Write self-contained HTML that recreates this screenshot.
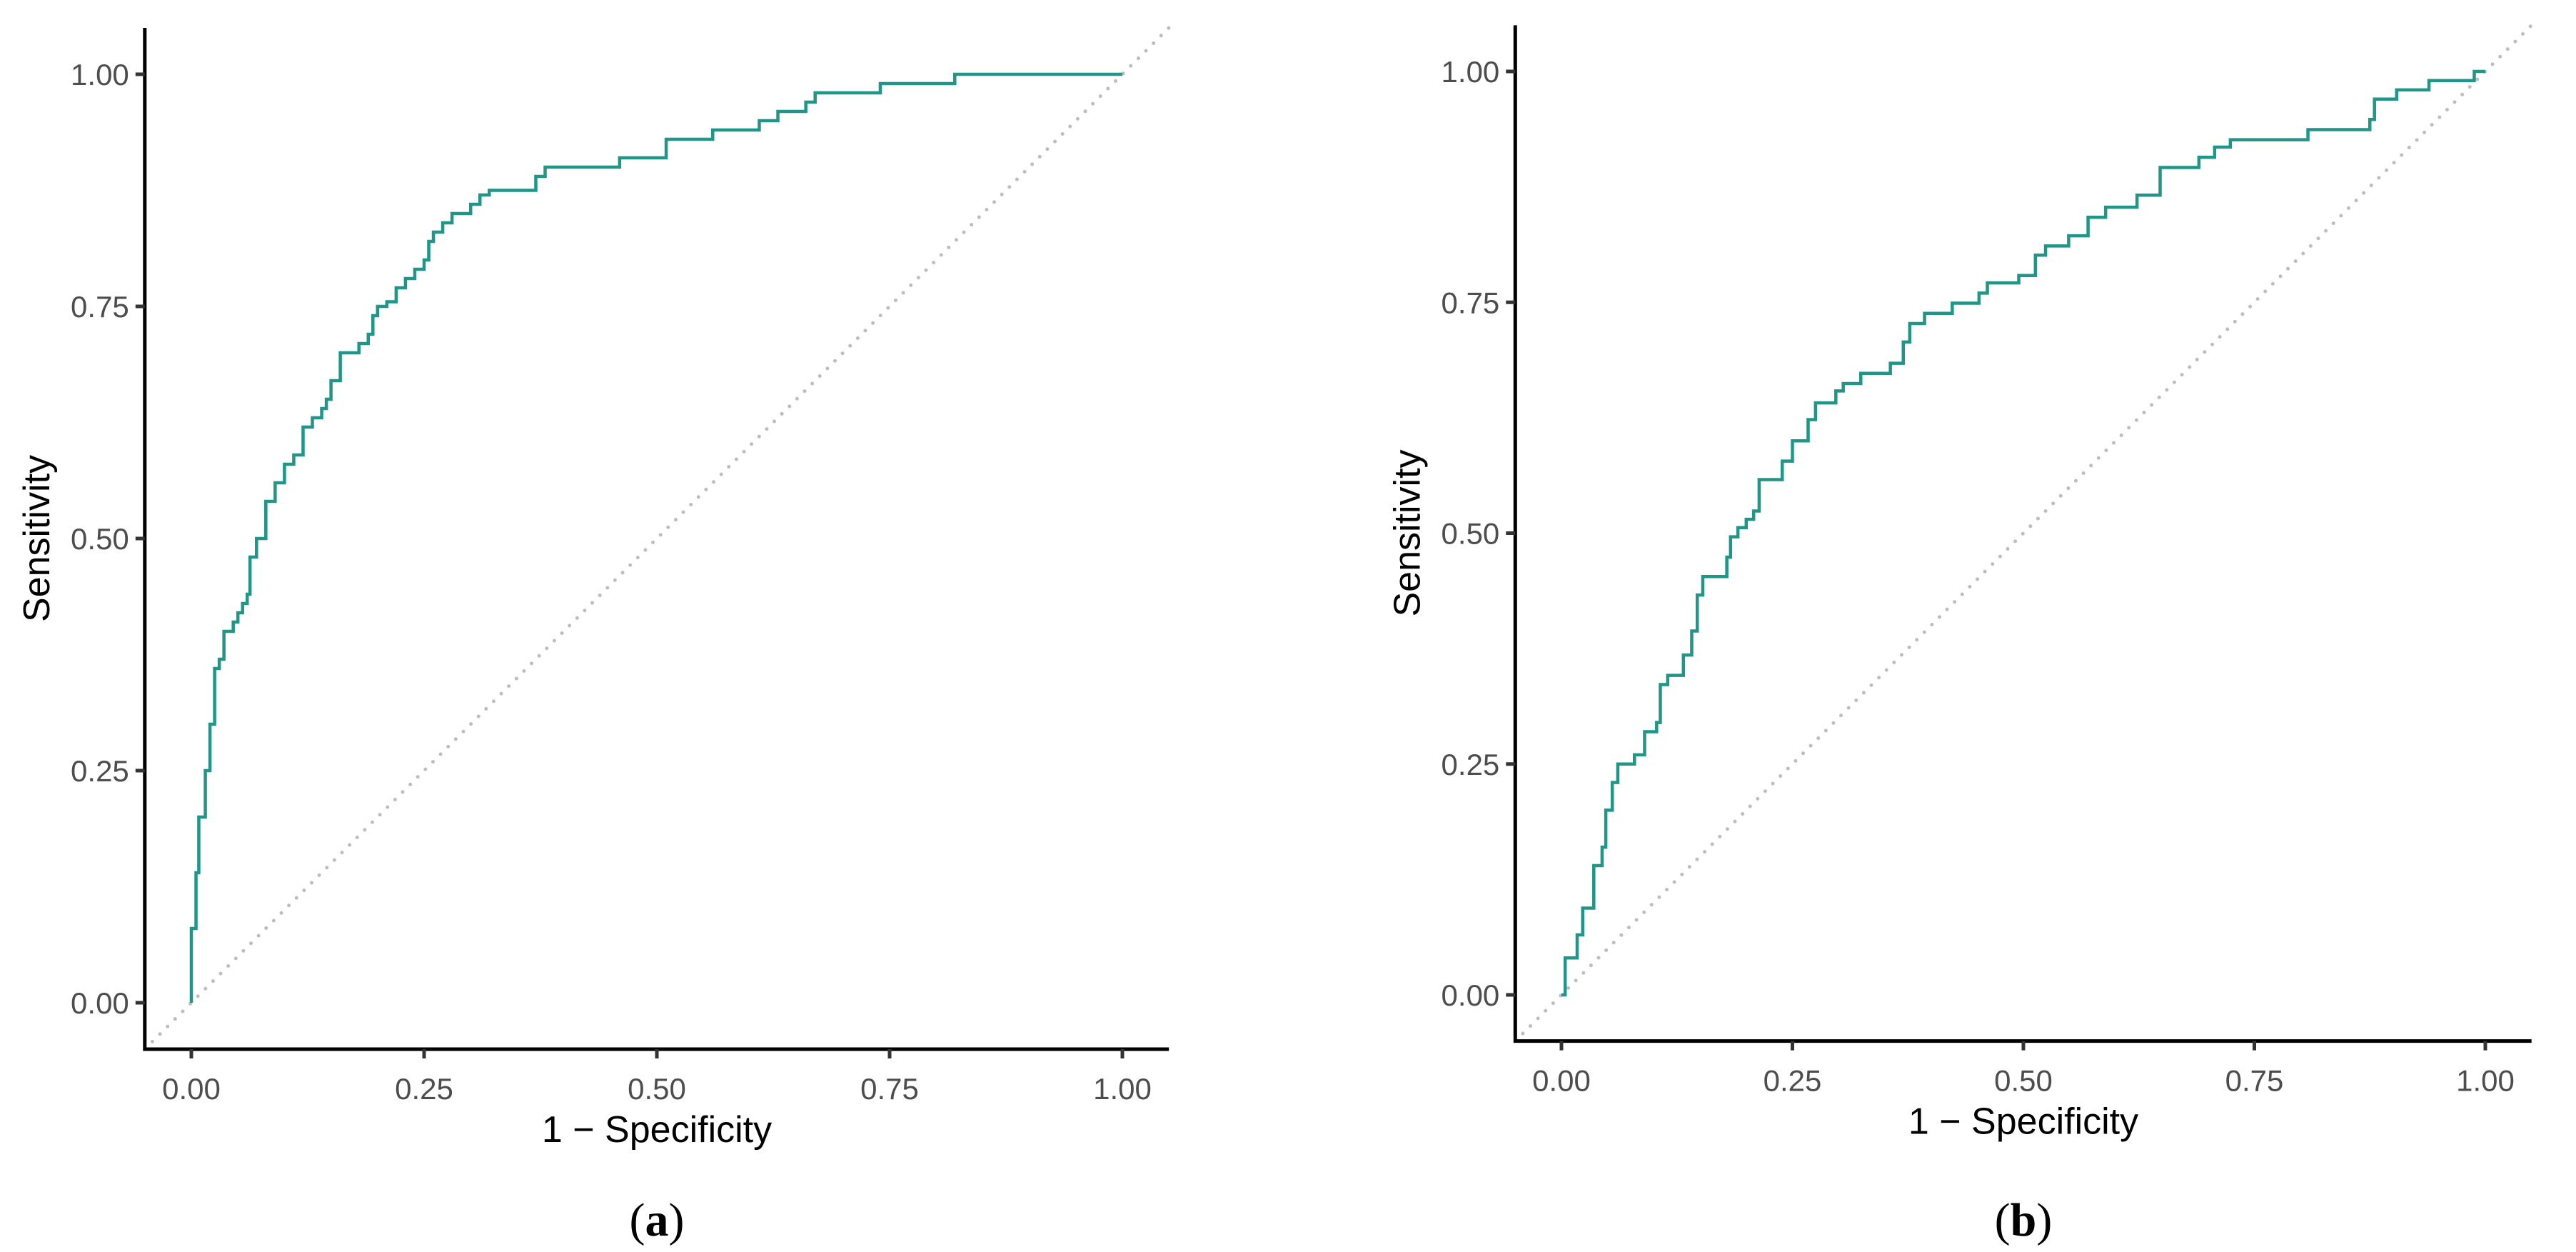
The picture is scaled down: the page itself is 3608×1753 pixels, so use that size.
<!DOCTYPE html>
<html><head><meta charset="utf-8"><style>
html,body{margin:0;padding:0;background:#fff;}
svg{display:block;}
.tick{font-family:"Liberation Sans",sans-serif;font-size:42px;fill:#4d4d4d;}
.atitle{font-family:"Liberation Sans",sans-serif;font-size:52px;fill:#000;}
.cap{font-family:"Liberation Serif",serif;font-size:66px;fill:#000;}
</style></head><body>
<svg id="chart" width="3608" height="1753" viewBox="0 0 3608 1753" xmlns="http://www.w3.org/2000/svg">
<g id="panelA"></g>
<g id="panelB"></g>
</svg>
<script>
const tickValues = [0, 0.25, 0.5, 0.75, 1];
const tickLabels = ["0.00", "0.25", "0.50", "0.75", "1.00"];
const fprA = [0,0,0.005,0.008,0.015,0.02,0.025,0.03,0.035,0.045,0.05,0.055,0.06,0.063,0.07,0.078,0.08,0.09,0.1,0.11,0.12,0.13,0.14,0.145,0.15,0.16,0.17,0.18,0.19,0.195,0.2,0.21,0.22,0.23,0.24,0.25,0.255,0.26,0.27,0.28,0.3,0.31,0.32,0.36,0.37,0.38,0.45,0.46,0.5,0.51,0.55,0.56,0.6,0.61,0.63,0.66,0.67,0.73,0.74,0.8,0.82,1];
const tprA = [0,0.08,0.14,0.2,0.25,0.3,0.36,0.37,0.4,0.41,0.42,0.43,0.44,0.48,0.5,0.5,0.54,0.56,0.58,0.59,0.62,0.63,0.64,0.65,0.67,0.7,0.7,0.71,0.72,0.74,0.75,0.755,0.77,0.78,0.79,0.8,0.82,0.83,0.84,0.85,0.86,0.87,0.875,0.875,0.89,0.9,0.9,0.91,0.91,0.93,0.93,0.94,0.94,0.95,0.96,0.97,0.98,0.98,0.99,0.99,1,1];
const fprB = [0,0.004,0.014,0.017,0.023,0.031,0.035,0.044,0.048,0.055,0.061,0.078,0.079,0.09,0.103,0.107,0.115,0.128,0.132,0.141,0.147,0.153,0.174,0.179,0.183,0.191,0.2,0.208,0.214,0.236,0.239,0.25,0.263,0.267,0.275,0.292,0.297,0.305,0.322,0.324,0.351,0.356,0.366,0.37,0.377,0.389,0.393,0.419,0.423,0.448,0.452,0.461,0.49,0.495,0.507,0.513,0.524,0.545,0.549,0.566,0.57,0.585,0.589,0.621,0.623,0.644,0.648,0.687,0.69,0.705,0.707,0.72,0.724,0.805,0.808,0.872,0.875,0.88,0.9,0.904,0.937,0.939,0.985,0.988,1];
const tprB = [0,0.04,0.04,0.065,0.094,0.094,0.14,0.16,0.2,0.23,0.25,0.25,0.26,0.285,0.295,0.336,0.346,0.346,0.368,0.394,0.433,0.453,0.453,0.474,0.496,0.506,0.515,0.524,0.558,0.558,0.578,0.6,0.6,0.623,0.641,0.641,0.654,0.662,0.662,0.673,0.673,0.684,0.684,0.707,0.727,0.727,0.738,0.738,0.749,0.749,0.76,0.771,0.771,0.779,0.779,0.801,0.811,0.811,0.822,0.822,0.842,0.842,0.853,0.853,0.866,0.866,0.896,0.896,0.907,0.907,0.918,0.918,0.926,0.926,0.937,0.937,0.948,0.97,0.97,0.98,0.98,0.99,0.99,1,1];

const NS = "http://www.w3.org/2000/svg";
function mk(parent, tag, attrs, text) {
  const e = document.createElementNS(NS, tag);
  for (const k in attrs) e.setAttribute(k, attrs[k]);
  if (text !== undefined) e.textContent = text;
  parent.appendChild(e);
  return e;
}
function drawPanel(g, P, fpr, tpr, cap) {
  const sx = v => P.x0 + v * (P.x1 - P.x0);
  const sy = v => P.y0 - v * (P.y0 - P.y1);
  const ax = sx(-0.05), ay = sy(-0.05), rx = sx(1.05), ty = sy(1.05);
  const diag = mk(g, "line", {x1: ax, y1: ay, x2: rx, y2: ty, stroke: "#bdbdbd", "stroke-width": 5, "stroke-dasharray": "0 15", "stroke-linecap": "round"});
  
  
  let d = "M" + sx(fpr[0]) + " " + sy(tpr[0]);
  for (let i = 1; i < fpr.length; i++) {
    d += " L" + sx(fpr[i]) + " " + sy(tpr[i - 1]) + " L" + sx(fpr[i]) + " " + sy(tpr[i]);
  }
  const line = mk(g, "path", {d: d, fill: "none", stroke: "#1f9688", "stroke-width": 4.5, "stroke-linejoin": "miter"});
  
  
  const axes = mk(g, "path", {d: "M" + ax + " " + ty + " L" + ax + " " + ay + " L" + rx + " " + ay, fill: "none", stroke: "#000", "stroke-width": 5});
  
  
  for (let i = 0; i < tickValues.length; i++) {
    const v = tickValues[i];
    mk(g, "line", {x1: sx(v), y1: ay, x2: sx(v), y2: ay + 13, stroke: "#333", "stroke-width": 5});
    const xt = mk(g, "text", {x: sx(v), y: ay + 70, "text-anchor": "middle", class: "tick"}, tickLabels[i]);
    
    
    mk(g, "line", {x1: ax - 13, y1: sy(v), x2: ax, y2: sy(v), stroke: "#333", "stroke-width": 5});
    const yt = mk(g, "text", {x: ax - 22, y: sy(v) + 15, "text-anchor": "end", class: "tick"}, tickLabels[i]);
    
    
  }
  const xtitle = mk(g, "text", {x: sx(0.5), y: ay + 130, "text-anchor": "middle", class: "atitle"}, "1 \u2212 Specificity");
  
  
  const ytitle = mk(g, "text", {x: 0, y: 0, "text-anchor": "middle", class: "atitle", transform: "translate(" + (ax - 134) + "," + sy(0.5) + ") rotate(-90)"}, "Sensitivity");
  
  
  const c = mk(g, "text", {x: sx(0.5), y: 1730, "text-anchor": "middle", class: "cap"});
  
  
  mk(c, "tspan", {}, "(");
  mk(c, "tspan", {"font-weight": "bold"}, cap);
  mk(c, "tspan", {}, ")");
}
drawPanel(document.getElementById("panelA"), {x0: 268, x1: 1572, y0: 1404, y1: 104}, fprA, tprA, "a");
drawPanel(document.getElementById("panelB"), {x0: 2187, x1: 3481, y0: 1393, y1: 100}, fprB, tprB, "b");
</script>
</body></html>
